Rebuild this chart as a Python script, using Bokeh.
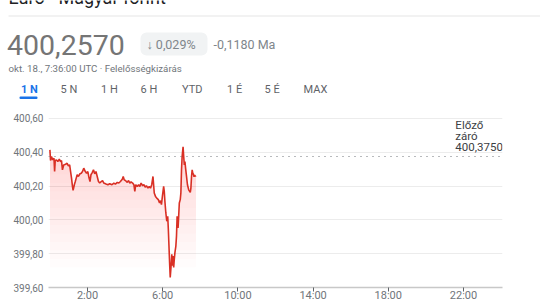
import numpy as np
from bokeh.plotting import figure
from bokeh.models import Range1d, Label, BoxAnnotation, Span, FixedTicker
from bokeh.layouts import column
from bokeh.embed import file_html
from bokeh.resources import INLINE

# ---------------- data ----------------
title = "Euro - Magyar forint"
last_price = "400,2570"
change_pct = "\u2193 0,029%"
change_abs = "-0,1180 Ma"
timestamp = "okt. 18., 7:36:00 UTC \u00b7 Felelősségkizárás"
tabs = ["1 N", "5 N", "1 H", "6 H", "YTD", "1 É", "5 É", "MAX"]
prev_close = 400.375
prev_close_lines = ["Előző", "záró", "400,3750"]

# minutes after midnight (UTC)
minutes = [0, 2, 5, 9, 13, 15, 17, 21, 25, 30,
           34, 37, 40, 44, 50, 55, 59, 63, 66, 69,
           72, 74, 78, 81, 84, 87, 91, 96, 100, 104,
           108, 113, 117, 121, 125, 128, 131, 135, 139, 143,
           147, 151, 155, 159, 164, 168, 172, 179, 185, 191,
           198, 204, 209, 215, 220, 225, 231, 234, 237, 241,
           247, 251, 255, 259, 264, 268, 271, 274, 279, 283,
           287, 291, 296, 300, 304, 308, 313, 317, 321, 325,
           329, 331, 333, 337, 341, 346, 350, 353, 356, 359,
           363, 365, 367, 370, 373, 376, 378, 380, 382, 384,
           386, 389, 391, 393, 395, 397, 399, 402, 404, 406,
           409, 411, 413, 416, 418, 420, 422, 425, 427, 429,
           431, 433, 436, 439, 443, 446, 448, 450, 452, 454,
           456, 458, 460, 462, 464, 466]
prices = [400.414, 400.351, 400.375, 400.355, 400.365, 400.286, 400.351, 400.355, 400.345, 400.359,
          400.345, 400.351, 400.296, 400.325, 400.329, 400.335, 400.320, 400.325, 400.286, 400.247,
          400.198, 400.175, 400.208, 400.227, 400.247, 400.267, 400.257, 400.273, 400.276, 400.286,
          400.306, 400.286, 400.276, 400.286, 400.247, 400.227, 400.267, 400.280, 400.296, 400.273,
          400.286, 400.257, 400.227, 400.218, 400.227, 400.233, 400.218, 400.212, 400.208, 400.214,
          400.208, 400.218, 400.212, 400.222, 400.218, 400.227, 400.241, 400.257, 400.237, 400.233,
          400.222, 400.233, 400.218, 400.225, 400.218, 400.208, 400.169, 400.208, 400.198, 400.208,
          400.198, 400.218, 400.202, 400.208, 400.194, 400.202, 400.188, 400.198, 400.188, 400.208,
          400.257, 400.208, 400.159, 400.139, 400.129, 400.120, 400.100, 400.114, 400.090, 400.139,
          400.198, 400.169, 400.110, 400.041, 399.992, 400.022, 399.943, 399.845, 399.747, 399.659,
          399.708, 399.796, 399.729, 399.786, 399.718, 399.767, 399.806, 399.845, 399.904, 400.022,
          399.953, 400.022, 400.100, 400.120, 400.159, 400.296, 400.375, 400.433, 400.375, 400.325,
          400.345, 400.306, 400.257, 400.208, 400.178, 400.169, 400.163, 400.188, 400.257, 400.296,
          400.276, 400.270, 400.255, 400.265, 400.258, 400.262]

x_ticks = [120, 360, 600, 840, 1080, 1320]
x_tick_labels = ["2:00", "6:00", "10:00", "14:00", "18:00", "22:00"]
y_ticks = [399.6, 399.8, 400.0, 400.2, 400.4, 400.6]
y_tick_labels = ["399,60", "399,80", "400,00", "400,20", "400,40", "400,60"]

FONT = "Roboto"
RED = "#d93025"
GREY = "#70757a"
BORDER_L, BORDER_R = 48, 38

# ---------------- header ----------------
HDR_H = 108
hdr = figure(width=540, height=HDR_H, x_range=Range1d(0, 540),
             y_range=Range1d(HDR_H, 0),
             x_axis_type=None, y_axis_type=None, output_backend="svg",
             toolbar_location=None, min_border=0)
hdr.frame_align = False
hdr.grid.visible = False
hdr.outline_line_color = None

hdr.add_layout(Label(x=8, y=-3, text=title, text_font=FONT, text_font_size="18px",
                     text_color="#202124", text_baseline="middle"))
hdr.add_layout(BoxAnnotation(left=8, right=540, top=15, bottom=16, fill_color="#e6e6e6",
                             fill_alpha=1, line_color=None))
hdr.add_layout(Label(x=6.5, y=44.5, text=last_price, text_font=FONT, text_font_size="28.5px",
                     text_color="#757575", text_baseline="middle"))
hdr.add_layout(BoxAnnotation(left=140, right=207, top=32, bottom=55, fill_color="#f1f3f4",
                             fill_alpha=1, line_color=None, border_radius=6))
hdr.add_layout(Label(x=146, y=43.5, text=change_pct, text_font=FONT, text_font_size="12.5px",
                     text_color="#80868b", text_baseline="middle"))
hdr.add_layout(Label(x=213, y=43.5, text=change_abs, text_font=FONT, text_font_size="12.5px",
                     text_color="#80868b", text_baseline="middle"))
hdr.add_layout(Label(x=8, y=67.5, text=timestamp, text_font=FONT, text_font_size="9.7px",
                     text_color=GREY, text_baseline="middle"))
tab_x = [20.5, 60, 100.5, 140, 181.5, 226.5, 264, 303]
for i, (tx, tl) in enumerate(zip(tab_x, tabs)):
    hdr.add_layout(Label(x=tx, y=89, text=tl, text_font=FONT, text_font_size="11px",
                         text_color="#1a73e8" if i == 0 else "#5f6368",
                         text_font_style="bold" if i == 0 else "normal",
                         text_baseline="middle"))
hdr.add_layout(BoxAnnotation(left=19, right=37, top=96, bottom=98.5, fill_color="#1a73e8",
                             fill_alpha=1, line_color=None, border_radius=1))

# ---------------- chart ----------------
CH_H = 304 - HDR_H
FRAME_TOP = 7
AXIS_H = 16
PX_PER_UNIT = 170.0
frame_h = CH_H - FRAME_TOP - AXIS_H
y_lo = 399.6
y_hi = y_lo + frame_h / PX_PER_UNIT

p = figure(width=540, height=CH_H, x_range=Range1d(-4.5, 1444.5), y_range=Range1d(y_lo, y_hi),
           output_backend="svg", toolbar_location=None,
           min_border_left=BORDER_L, min_border_right=BORDER_R, min_border_top=FRAME_TOP,
           min_border_bottom=AXIS_H)
p.frame_align = False
p.outline_line_color = None
p.background_fill_color = "white"

t = np.array(minutes, dtype=float)
pr = np.array(prices, dtype=float)

# gradient-like fill under the line: stacked translucent layers
levels = np.linspace(399.72, 400.42, 15)
for lo in levels:
    p.varea(x=t, y1=np.minimum(pr, lo), y2=pr, fill_color="#e04a35", fill_alpha=0.016)

p.line(t, pr, line_color=RED, line_width=1.6)

p.add_layout(Span(location=prev_close, dimension="width", line_color="#70757a",
                  line_dash="1 5", line_width=1))

yt = FixedTicker(ticks=y_ticks)
p.yaxis.ticker = yt
p.ygrid.ticker = yt
p.yaxis.major_label_overrides = dict(zip(y_ticks, y_tick_labels))
p.yaxis.axis_line_color = None
p.yaxis.major_tick_line_color = None
p.yaxis.minor_tick_line_color = None
p.yaxis.major_tick_in = 0
p.yaxis.major_tick_out = 0
p.yaxis.major_label_standoff = 5
p.yaxis.major_label_text_font = FONT
p.yaxis.major_label_text_font_size = "10px"
p.yaxis.major_label_text_color = GREY
p.ygrid.grid_line_color = "#ececec"
p.xgrid.visible = False

xt = FixedTicker(ticks=x_ticks)
p.xaxis.ticker = xt
p.xaxis.major_label_overrides = dict(zip(x_ticks, x_tick_labels))
p.xaxis.axis_line_color = "#c8c8c8"
p.xaxis.axis_line_width = 1.5
p.xaxis.major_tick_in = 0
p.xaxis.major_tick_out = 4
p.xaxis.major_tick_line_color = "#5f6368"
p.xaxis.minor_tick_line_color = None
p.xaxis.major_label_standoff = -3
p.xaxis.major_label_text_font = FONT
p.xaxis.major_label_text_font_size = "11px"
p.xaxis.major_label_text_color = GREY

# previous close annotation
def y_at(canvas_y):
    return y_hi - (canvas_y - (HDR_H + FRAME_TOP)) / PX_PER_UNIT

for line_txt, cy in zip(prev_close_lines, [125, 136, 147]):
    p.add_layout(Label(x=1294, y=y_at(cy), text=line_txt, text_font=FONT,
                       text_font_size="11.5px", text_color="#3c4043", text_baseline="middle"))

layout = column(hdr, p, spacing=0)
open("out.html", "w").write(file_html(layout, INLINE))
